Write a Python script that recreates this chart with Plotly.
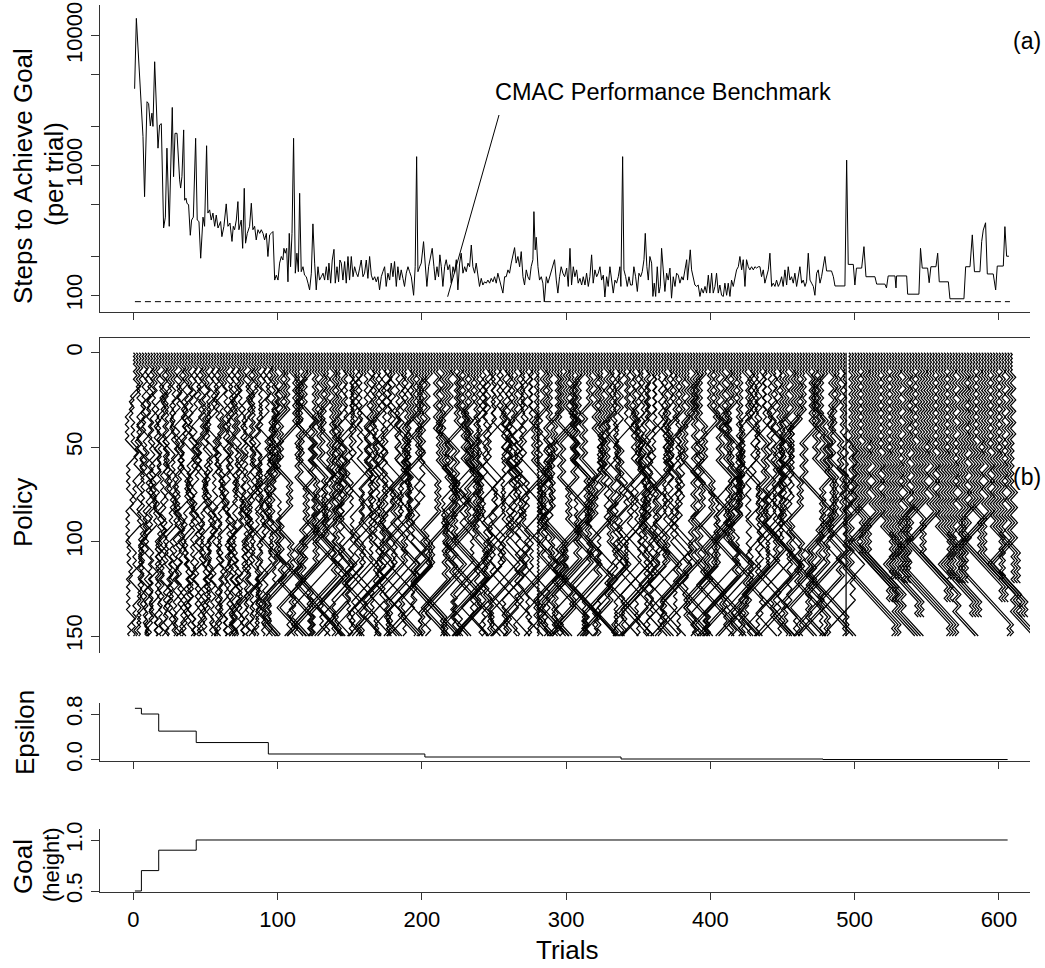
import numpy as np
import plotly.graph_objects as go

# ---------------- data ----------------
steps_trial = [
    0.8, 2.0, 6.6, 7.7, 9.4, 10.5, 11.7, 12.8, 13.5, 14.7,
    17.0, 18.1, 19.3, 20.9, 22.1, 23.2, 24.8, 26.9, 27.8, 28.8,
    30.2, 30.8, 32.0, 32.7, 33.6, 34.8, 35.5, 36.4, 37.1, 38.2,
    39.4, 40.3, 41.5, 43.1, 44.2, 45.4, 46.6, 48.2, 49.3, 50.7,
    51.6, 52.8, 53.9, 55.1, 56.3, 57.4, 58.6, 60.4, 61.3, 62.7,
    64.3, 65.5, 66.9, 68.3, 69.2, 70.1, 71.3, 72.4, 73.1, 74.7,
    75.7, 76.8, 77.7, 78.9, 80.5, 81.7, 82.8, 84.0, 85.1, 86.3,
    87.5, 88.6, 89.8, 90.9, 92.1, 93.2, 94.4, 95.5, 96.7, 97.9,
    99.0, 100.2, 101.3, 102.5, 103.6, 104.3, 105.2, 106.2, 107.1, 108.0,
    108.9, 109.9, 111.0, 112.2, 113.3, 114.3, 115.2, 116.3, 117.5, 118.6,
    119.8, 121.0, 122.1, 123.3, 124.4, 125.6, 126.7, 127.9, 129.0, 130.2,
    131.4, 132.5, 133.7, 134.8, 135.5, 136.7, 137.8, 139.0, 139.9, 141.1,
    142.2, 143.1, 144.1, 145.2, 146.4, 147.5, 148.7, 149.8, 151.0, 152.2,
    153.3, 154.5, 155.6, 156.8, 157.9, 159.1, 160.2, 161.4, 162.5, 163.7,
    164.9, 166.0, 167.2, 168.3, 169.5, 170.6, 171.8, 172.9, 174.1, 175.2,
    176.4, 177.6, 178.7, 179.9, 181.0, 182.2, 183.3, 184.5, 185.6, 186.8,
    187.9, 189.1, 190.3, 191.4, 192.6, 194.2, 195.3, 196.3, 197.2, 198.4,
    199.5, 201.1, 202.3, 203.4, 204.6, 205.7, 207.1, 208.3, 209.2, 210.4,
    211.5, 212.4, 213.4, 214.5, 215.7, 216.8, 218.0, 219.2, 220.3, 221.5,
    222.6, 223.8, 224.9, 226.1, 227.2, 228.4, 229.6, 230.7, 231.9, 233.0,
    234.2, 235.3, 236.5, 237.6, 238.8, 239.9, 241.1, 242.2, 243.4, 244.6,
    245.7, 246.9, 248.0, 249.2, 250.3, 251.5, 252.6, 253.8, 254.9, 256.1,
    257.3, 258.4, 259.6, 260.7, 261.9, 263.0, 264.2, 265.3, 266.5, 267.7,
    268.8, 270.0, 271.1, 272.3, 273.4, 274.6, 275.7, 276.9, 277.6, 278.5,
    279.2, 280.4, 281.5, 282.7, 283.8, 284.8, 286.2, 287.3, 288.5, 289.6,
    290.8, 291.9, 293.1, 294.2, 295.4, 296.5, 297.7, 298.9,
    300.3, 301.4, 302.6, 303.7, 304.9, 306.0, 307.2, 308.3, 309.5, 310.7,
    311.8, 313.0, 314.1, 315.3, 316.4, 317.6, 318.7, 319.9, 321.1, 322.2,
    323.4, 324.5, 325.7, 326.8, 328.0, 329.1, 330.3, 331.5, 332.6, 333.8,
    334.9, 336.1, 337.2, 337.9, 339.1, 340.0, 341.2, 342.3, 343.5, 344.6,
    345.8, 346.9, 348.1, 349.3, 350.4, 351.6, 352.7, 353.9, 354.8, 355.9,
    356.9, 358.0, 359.2, 360.1, 361.0, 362.0, 363.1, 364.3, 365.2, 366.1,
    367.3, 368.4, 369.6, 370.7, 371.9, 373.0, 374.2, 375.4, 376.5, 377.7,
    378.8, 380.1, 381.1, 382.3, 383.5, 384.1, 385.1, 386.0, 386.9, 388.1,
    389.2, 390.4, 391.5, 392.7, 393.8, 395.0, 396.2, 397.3, 398.5, 399.6,
    400.8, 401.9, 403.1, 404.2, 405.4, 406.5, 407.7, 408.9, 410.0, 411.2,
    412.3, 413.5, 414.6, 415.8, 416.9, 418.1, 419.3, 420.4, 421.6, 422.7,
    423.9, 425.0, 426.2, 427.3, 428.5, 429.7, 430.8, 432.0, 433.1, 434.3,
    435.4, 436.6, 437.7, 438.9, 440.1, 441.2, 442.4, 443.5, 444.7, 445.8,
    447.0, 448.1, 449.3, 450.4, 451.6, 452.8, 453.9, 455.1, 456.2, 457.4,
    458.5, 459.7, 460.9, 462.0, 463.2, 464.3, 465.5, 466.6, 467.8, 469.0,
    470.1, 471.3, 472.4, 473.6, 474.7, 475.9, 477.0, 478.2, 479.3, 480.5,
    481.6, 483.9, 485.2, 486.3, 493.2, 494.4, 495.5, 499.0, 500.1, 501.2,
    504.8, 506.4, 507.8, 514.0, 515.2, 520.9, 522.0, 523.2, 527.9, 528.6,
    529.0, 536.0, 536.7, 544.5, 545.6, 546.8, 550.5, 551.6, 552.8, 556.3,
    557.5, 558.6, 564.9, 566.0, 575.7, 576.9, 579.9, 581.5, 583.0, 586.8,
    588.0, 589.1, 590.7, 591.9, 596.0, 597.7, 598.8, 603.0, 604.1, 605.3,
    606.9,
]
steps_value = [
    3900, 13600, 1670, 575, 3100, 3000, 2020, 2530, 2000, 6300,
    1360, 2050, 2100, 330, 400, 1360, 340, 2800, 820, 1770,
    1770, 1240, 775, 670, 820, 1880, 540, 560, 510, 500,
    290, 380, 400, 1620, 380, 370, 193, 400, 340, 1420,
    430, 455, 380, 430, 340, 415, 330, 370, 283, 340,
    506, 340, 360, 260, 340, 320, 380, 527, 320, 380,
    230, 667, 252, 300, 340, 512, 320, 340, 267, 320,
    300, 320, 300, 267, 300, 199, 292, 300, 310, 131,
    143, 131, 177, 199, 187, 230, 211, 230, 127, 300,
    166, 300, 1620, 148, 211, 152, 611, 152, 166, 143,
    139, 124, 110, 148, 355, 177, 110, 166, 131, 139,
    148, 131, 166, 131, 177, 124, 187, 226, 124, 166,
    127, 187, 177, 131, 182, 124, 199, 131, 199, 139,
    166, 148, 139, 162, 187, 139, 148, 187, 135, 199,
    143, 131, 139, 127, 139, 110, 139, 152, 166, 117,
    148, 131, 177, 139, 182, 117, 166, 131, 157, 135,
    117, 148, 166, 152, 139, 100, 166, 1170, 152, 166,
    177, 259, 166, 117, 166, 188, 230, 166, 131, 166,
    139, 205, 166, 117, 166, 188, 157, 172, 124, 166,
    148, 188, 110, 177, 211, 148, 166, 152, 177, 166,
    244, 166, 148, 177, 139, 117, 135, 120, 127, 124,
    131, 124, 135, 127, 139, 124, 148, 131, 117, 104,
    139, 139, 157, 148, 177, 199, 233, 177, 199, 166,
    217, 139, 120, 157, 139, 131, 166, 188, 441, 224,
    280, 166, 131, 139, 124, 89, 139, 124, 139, 157,
    172, 188, 131, 104, 139, 166, 148, 139,
    162, 117, 230, 120, 166, 139, 157, 124, 135, 120,
    139, 120, 148, 117, 139, 205, 124, 157, 139, 148,
    166, 131, 143, 97, 139, 117, 166, 135, 104, 131,
    124, 139, 166, 117, 1170, 157, 139, 117, 139, 120,
    120, 166, 139, 107, 148, 139, 152, 188, 300, 166,
    131, 199, 177, 98, 124, 98, 166, 104, 117, 230,
    139, 107, 148, 131, 162, 95, 139, 117, 148, 143,
    124, 139, 131, 152, 188, 131, 193, 224, 157, 131,
    120, 117, 120, 98, 113, 104, 117, 104, 143, 104,
    148, 104, 117, 148, 104, 120, 100, 98, 124, 100,
    124, 98, 131, 117, 139, 157, 166, 199, 157, 188,
    117, 188, 166, 157, 166, 157, 166, 162, 166, 166,
    139, 157, 124, 139, 157, 211, 117, 124, 117, 131,
    117, 124, 139, 117, 157, 120, 166, 131, 139, 124,
    148, 117, 139, 166, 124, 131, 117, 127, 211, 131,
    124, 117, 100, 148, 157, 124, 139, 166, 199, 154,
    154, 154, 139, 118, 118, 1100, 173, 173, 120, 162,
    162, 237, 139, 139, 122, 122, 114, 141, 141, 114,
    141, 141, 102, 102, 230, 162, 162, 125, 166, 166,
    211, 127, 127, 94, 94, 166, 166, 292, 152, 152,
    259, 318, 362, 146, 146, 110, 168, 168, 338, 200,
    200,
]
assert len(steps_trial) == len(steps_value)

benchmark_trials = [1, 607.6]
benchmark_steps = [89.3, 89.3]

pointer_trials = [253.4, 217.8]
pointer_steps = [2449, 97.5]

eps_trial = [1, 5.5, 17.5, 43.5, 93.5, 202, 338, 478, 606]
eps_value = [0.90, 0.80, 0.50, 0.30, 0.10, 0.047, 0.012, 0.003, 0.003]

goal_trial = [1, 5.5, 17.5, 43.5, 606]
goal_value = [0.5, 0.7, 0.9, 1.0, 1.0]

# policy curves: action run patterns (wK:N = alternating runs of K for N states,
# zN = runs of 1, rN / lN = runs right / left, sN = no move)
policy_patterns = {
    # early trials: meandering
    'a': "z6 w2:8 r4 w2:8 r3 w2:12 l6 w2:8 l5 w2:12 r4 w2:8 r6 w2:12 l3 w2:8 l7 w2:16 r5 w2:12",
    'b': "z6 w2:12 l5 w2:8 l3 w2:12 r7 w2:8 r4 w2:16 l4 w2:8 l6 w2:12 r3 w2:8 r5 w2:16 l4 w2:8",
    'c': "z6 w2:8 r6 w2:12 l3 w2:8 l4 w2:16 r5 w2:8 r3 w2:12 l7 w2:8 r4 w2:12 l5 w2:16 r3 w2:8",
    'd': "z6 w2:16 l4 w2:8 r3 w2:12 r5 w2:8 l6 w2:12 l4 w2:16 r6 w2:8 r3 w2:12 l5 w2:8 l3 w2:8",
    'e': "z6 w3:12 r5 w2:8 l8 w3:12 r4 w2:12 l4 w3:12 r6 w2:8 l5 w3:18 r3 w2:12 l4 w2:12",
    'f': "z6 w3:18 l4 w2:12 r8 w3:12 l5 w2:8 r3 w3:18 l6 w2:12 r5 w3:12 l3 w2:12 r4 w2:8",
    # middle trials: zigzags, long diagonal runs lower down
    'g': "z10 w2:24 r5 w2:16 l8 w3:24 r14 w2:12 l18 w2:8 r10 z4",
    'h': "z8 w3:24 l5 w2:20 r12 w2:14 l6 w3:18 r20 w2:10 l16",
    'i': "z12 w2:20 l8 w3:24 l14 w2:12 r22 w3:12 r16 w2:12",
    'j': "z10 r4 w2:24 r10 w3:18 l6 w2:16 r16 l24 w2:12 r12",
    'k': "z14 w3:24 l12 w2:16 l6 w3:18 r8 w2:12 l28 w3:12 r6",
    'l': "z8 w2:20 r8 w3:24 r6 w2:20 l18 w3:12 r24 w2:12",
    'm': "z12 l6 w2:20 w3:18 r12 w2:16 l10 w3:18 l20 w2:12 r8",
    'n': "z10 w2:28 l10 w3:18 r18 w2:14 r8 w3:12 l26 w2:8 r6",
    'o': "z10 w3:30 r7 w2:16 r5 w3:18 l15 w2:12 l10 r30 z8",
    'p': "z12 w2:16 l4 w3:24 r9 w2:20 l20 w3:18 l12 r16 w2:8",
    'q': "z8 w3:18 w2:16 r10 w3:24 l8 w2:16 r12 l26 w2:16",
    'r': "z14 w2:24 r3 w3:30 l16 w2:12 r20 w3:12 l22 z6",
    # late trials: dense zigzag bundles
    't': "z10 w2:40 w3:30 r8 w2:20 r20 w3:12 r14",
    'u': "z8 w2:36 w3:36 l10 w3:24 r30 w2:8",
    'v': "z12 w2:44 w4:32 l12 r24 w2:8",
    'w': "z10 w2:40 w3:42 r14 w2:16",
    'x': "z8 w2:48 w3:36 w2:28",
    'y': "z10 w3:36 w2:24 w4:32 l10 r20 w2:8",
    # special single curves
    '#': "z160",
    '|': "s160",
}
# one letter per policy curve; curves start at trials 0, 2, 4, ..., 608
policy_assign = (
    "adbecfbdaefcdbafecbdfaecbdeafcbdaecfdbaefcdbeafc"
    "gghhiijjkkllmmnnooppqqrrhgjiklnmpoqrgihjlkmnoprqggiikkmmooqqhhjjllnnpprrighjkmlnqoprghikjlmn"
    "#"
    "hhggjjiillkknnmmppoorrqqgihkjmlonqprhgjimkonqpgriikkhhggmmllnnooqqpprrjjhgikjlmnopqrgghhkkiijjllnnmmooppqr"
    "|"
    "ttttuuuvvvvwwwxxxxyyyttuuuuvvvwwwwxxxyyyytttuuvvvwwwxxyyy"
)
policy_first_trial = 0
policy_trial_step = 2
policy_step_size = 1.2
policy_depth = 150


def pattern_actions(pattern):
    acts = []
    last = -1
    for tok in pattern.split():
        kind = tok[0]
        if kind in "wz":
            if kind == "w":
                k, n = (int(v) for v in tok[1:].split(":"))
            else:
                k, n = 1, int(tok[1:])
            d = -last if last != 0 else 1
            cnt = 0
            for _ in range(n):
                acts.append(d)
                cnt += 1
                if cnt == k:
                    d = -d
                    cnt = 0
            last = acts[-1]
        elif kind == "r":
            acts += [1] * int(tok[1:])
            last = 1
        elif kind == "l":
            acts += [-1] * int(tok[1:])
            last = -1
        elif kind == "s":
            acts += [0] * int(tok[1:])
    return acts


pol_x, pol_y = [], []
for idx, letter in enumerate(policy_assign):
    trial = policy_first_trial + policy_trial_step * idx
    acts = pattern_actions(policy_patterns[letter])[:policy_depth]
    xs = trial + policy_step_size * np.concatenate([[0], np.cumsum(acts)])
    ys = np.arange(len(xs))
    pol_x += list(xs) + [None]
    pol_y += list(ys) + [None]

# ---------------- figure ----------------
FONT = "Liberation Sans, Arial, Helvetica, sans-serif"
LINE = "#333333"
W, H = 1045, 968
ML, MR = 100, 15
PW = W - ML - MR

fig = go.Figure()
blk = dict(color="black", width=1)
fig.add_trace(go.Scatter(x=steps_trial, y=steps_value, mode="lines", line=blk, xaxis="x", yaxis="y"))
fig.add_trace(go.Scatter(x=benchmark_trials, y=benchmark_steps, mode="lines",
                         line=dict(color="black", width=1, dash="6px,4px"), xaxis="x", yaxis="y"))
fig.add_trace(go.Scatter(x=pointer_trials, y=pointer_steps, mode="lines", line=blk, xaxis="x", yaxis="y"))
fig.add_trace(go.Scatter(x=pol_x, y=pol_y, mode="lines", line=dict(color="black", width=1.25),
                         xaxis="x2", yaxis="y2"))
fig.add_trace(go.Scatter(x=eps_trial, y=eps_value, mode="lines", line=blk, line_shape="hv",
                         xaxis="x3", yaxis="y3"))
fig.add_trace(go.Scatter(x=goal_trial, y=goal_value, mode="lines", line=blk, line_shape="hv",
                         xaxis="x4", yaxis="y4"))

xr = [-23.2, 621.5]
xt = [0, 100, 200, 300, 400, 500, 600]
tickfont = dict(family=FONT, size=22, color="black")


def xax(anchor, labels=False, ticks="outside", side="bottom"):
    return dict(range=xr, anchor=anchor, domain=[0, 1], showgrid=False, zeroline=False,
                showline=True, linecolor=LINE, linewidth=1, ticks=ticks, ticklen=7,
                tickcolor=LINE, tickvals=xt, showticklabels=labels, tickfont=tickfont,
                automargin=False, side=side, fixedrange=True)


def yax(anchor, dom, rng, tv, tt, typ="linear"):
    return dict(type=typ, range=rng, anchor=anchor, domain=dom, showgrid=False, zeroline=False,
                showline=True, linecolor=LINE, linewidth=1, ticks="outside", ticklen=8,
                tickcolor=LINE, tickvals=tv, ticktext=tt, tickangle=-90, tickfont=tickfont,
                automargin=False, fixedrange=True)


def pdom(top_px, bot_px):
    return [1 - bot_px / H, 1 - top_px / H]


layout = dict(
    width=W, height=H, margin=dict(l=ML, r=MR, t=0, b=0),
    paper_bgcolor="white", plot_bgcolor="white", showlegend=False,
    font=dict(family=FONT, size=22, color="black"),
    xaxis=xax("y"),
    yaxis=yax("x", pdom(5, 312), [1.8713, 4.2365],
              [100, 200, 500, 1000, 2000, 5000, 10000],
              ["100", "", "", "1000", "", "", "10000"], typ="log"),
    xaxis2=xax("y2", ticks="", side="top"),
    yaxis2=yax("x2", pdom(338, 653), [159.0, -7.8], [0, 50, 100, 150], ["0", "50", "100", "150"]),
    xaxis3=xax("y3"),
    yaxis3=yax("x3", pdom(702.7, 761), [-0.0228, 0.998], [0, 0.8], ["0.0", "0.8"]),
    xaxis4=xax("y4", labels=True),
    yaxis4=yax("x4", pdom(829.3, 892.3), [0.4873, 1.1049], [0.5, 1.0], ["0.5", "1.0"]),
)
fig.update_layout(**layout)


def ann(text, px, py, size, angle=0):
    return dict(text=text, xref="paper", yref="paper", x=(px - ML) / PW, y=1 - py / H,
                xanchor="center", yanchor="middle", showarrow=False, textangle=angle,
                font=dict(family=FONT, size=size, color="black"))


fig.update_layout(annotations=[
    ann("Steps to Achieve Goal", 23, 176, 26, -90),
    ann("(per trial)", 54, 174, 26, -90),
    ann("Policy", 23, 513, 26, -90),
    ann("Epsilon", 25, 733, 26, -90),
    ann("Goal", 23, 867, 26, -90),
    ann("(height)", 51, 865, 22, -90),
    ann("Trials", 567, 950, 26),
    ann("CMAC Performance Benchmark", 663, 92, 23.5),
    ann("(a)", 1027, 41, 23),
    ann("(b)", 1027, 477, 23),
])

fig.write_html("out.html")
